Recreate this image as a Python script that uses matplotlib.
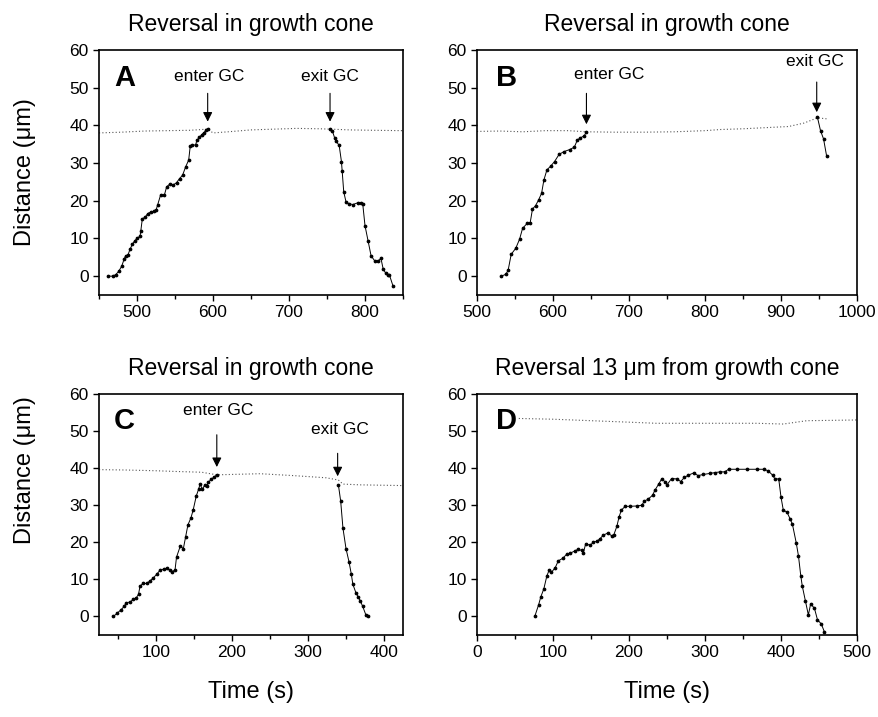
import numpy as np
import matplotlib
matplotlib.use("Agg")
import matplotlib.pyplot as plt
from matplotlib.ticker import MultipleLocator

plt.rcParams['font.family'] = ['Liberation Sans', 'DejaVu Sans']

# ---- panel A ----
a_in_t = [462, 468, 472, 476, 480, 483, 485, 488, 491, 494, 497, 500, 504, 505, 507, 511, 514, 518,
          522, 525, 527, 531, 536, 539, 543, 547, 552, 556, 560, 564, 568, 570, 573, 577, 579, 582,
          585, 588, 591, 593]
a_in_d = [0, 0, 0.4, 1.3, 2.7, 4.5, 5.4, 5.6, 7.2, 8.5, 9.4, 10, 10.6, 12, 15.2, 15.7, 16.6, 17,
          17.2, 17.5, 18.8, 21.5, 21.5, 23.7, 24.4, 24.1, 24.8, 25.9, 26.8, 29, 30.8, 34.4, 34.8, 34.8,
          36.1, 36.8, 37.5, 38.1, 38.7, 39]
a_out_t = [754, 757, 760, 762, 766, 769, 770, 772, 775, 779, 784, 791, 795, 797, 800, 804, 808, 813,
           817, 821, 824, 827, 830, 832, 837]
a_out_d = [39, 38.6, 36.7, 35.8, 34.7, 30.4, 27.8, 22.4, 19.7, 19.2, 19, 19.5, 19.5, 19.2, 13.4, 9.4,
           5.4, 4, 4, 4.7, 1.8, 0.9, 0.2, 0.4, -2.7]
a_gc_t = [450, 480, 510, 540, 570, 593, 600, 620, 650, 680, 710, 740, 755, 780, 810, 850]
a_gc_d = [38.0, 38.2, 38.5, 38.6, 38.7, 39.0, 38.0, 38.3, 38.8, 39.0, 39.2, 39.1, 39.0, 38.8, 38.7, 38.6]

# ---- panel B ----
b_in_t = [532, 538, 541, 545, 551, 556, 560, 566, 570, 573, 577, 581, 585, 588, 592, 597, 602, 608,
          614, 622, 628, 632, 636, 641, 644]
b_in_d = [0, 0.5, 1.6, 5.8, 7.4, 9.8, 12.7, 14, 14.2, 17.8, 18.7, 20.2, 22, 25.5, 28.2, 29.2, 30.4,
          32.3, 33, 33.6, 34.2, 36.1, 36.7, 37.2, 38.3]
b_out_t = [948, 952, 956, 960]
b_out_d = [42.1, 38.6, 36.4, 31.9]
b_gc_t = [500, 530, 560, 590, 620, 644, 680, 720, 760, 800, 820, 850, 880, 910, 930, 948, 962]
b_gc_d = [38.4, 38.5, 38.3, 38.6, 38.6, 38.3, 38.2, 38.2, 38.3, 38.6, 38.9, 39.1, 39.4, 39.7, 40.6,
          42.0, 41.7]

# ---- panel C ----
c_in_t = [44, 49, 54, 58, 61, 66, 70, 74, 77, 79, 83, 88, 92, 96, 101, 105, 110, 114, 118, 121, 125,
          127, 132, 136, 139, 142, 146, 149, 153, 156, 158, 161, 164, 167, 169, 173, 176, 180]
c_in_d = [0, 0.9, 1.8, 2.7, 3.7, 3.9, 4.6, 5, 6, 8.2, 8.9, 8.9, 9.6, 10.3, 11.4, 12.4, 12.8, 13, 12.5,
          12.1, 12.5, 16, 19, 18.3, 21.5, 24.7, 26.6, 28.8, 32.5, 34.3, 35.7, 34.3, 35.4, 35.2, 36.2,
          37.1, 37.5, 38.2]
c_out_t = [340, 343, 346, 350, 354, 357, 359, 363, 366, 369, 372, 376, 379]
c_out_d = [35.5, 31.1, 23.8, 18.3, 14.7, 11.4, 8.7, 6.4, 5.3, 4.1, 2.7, 0.5, 0]
c_gc_t = [25, 60, 100, 127, 160, 180, 237, 280, 324, 340, 346, 368, 425]
c_gc_d = [39.6, 39.5, 39.3, 39.1, 38.9, 38.2, 38.5, 38.0, 37.4, 36.8, 35.7, 35.5, 35.3]

# ---- panel D ----
d_t = [76, 81, 84, 88, 92, 95, 98, 103, 107, 113, 118, 122, 129, 133, 138, 140, 143, 149, 153, 158,
       162, 166, 172, 177, 180, 184, 187, 190, 195, 201, 210, 217, 220, 225, 231, 234, 239, 243, 247,
       250, 256, 263, 268, 273, 278, 285, 291, 298, 307, 313, 320, 326, 331, 342, 355, 368, 377, 383,
       389, 392, 397, 400, 403, 408, 412, 415, 420, 423, 426, 428, 432, 436, 439, 444, 448, 453, 457]
d_d = [0, 3.1, 5.3, 7.5, 11, 12.5, 11.9, 13.2, 15, 15.7, 16.8, 17, 17.7, 18.1, 17.8, 17.2, 19.6,
       19.2, 20, 20.3, 21, 21.9, 22.5, 21.8, 22, 24.3, 26.9, 28.7, 29.7, 29.7, 29.8, 30, 31.1, 31.6,
       32.7, 34, 35.7, 37.1, 36.4, 35.5, 37.2, 37.1, 36.4, 37.5, 38.1, 38.7, 38, 38.3, 38.6, 38.8, 39,
       39, 39.7, 39.7, 39.7, 39.7, 39.7, 39.3, 38.1, 37.1, 37.1, 32.2, 28.7, 28.1, 26.3, 24.9, 19.9,
       16.3, 11, 8.2, 4.3, 0.4, 3.4, 2.2, -0.9, -2, -4.1]
d_gc_t = [55, 100, 150, 200, 236, 300, 368, 403, 434, 470, 500]
d_gc_d = [53.4, 53.2, 52.8, 52.4, 52.1, 52.1, 52.1, 51.9, 52.8, 52.9, 53.0]

titles = ["Reversal in growth cone", "Reversal in growth cone",
          "Reversal in growth cone", "Reversal 13 \u03bcm from growth cone"]
letters = ["A", "B", "C", "D"]
xlims = [(450, 850), (500, 1000), (25, 425), (0, 500)]
# (label, arrow x, arrow tip y, arrow tail y, text x, text y)
arrows = [
    [("enter GC", 593, 41.0, 48.5, 595, 51), ("exit GC", 754, 41.0, 48.5, 754, 51)],
    [("enter GC", 644, 40.3, 48.5, 674, 51.5), ("exit GC", 947, 43.5, 51.5, 945, 55)],
    [("enter GC", 180, 40.3, 49.0, 182, 53.5), ("exit GC", 339, 37.8, 44.0, 342, 48.5)],
    [],
]

traces = [
    [(a_in_t, a_in_d), (a_out_t, a_out_d)],
    [(b_in_t, b_in_d), (b_out_t, b_out_d)],
    [(c_in_t, c_in_d), (c_out_t, c_out_d)],
    [(d_t, d_d)],
]
gc_lines = [(a_gc_t, a_gc_d), (b_gc_t, b_gc_d), (c_gc_t, c_gc_d), (d_gc_t, d_gc_d)]

W, H = 879, 717
fig = plt.figure(figsize=(W / 100, H / 100), dpi=100)

# axes boxes in pixels: left, top, right, bottom
boxes = [(99, 50, 403, 295), (477, 50, 857, 295), (99, 394, 403, 635), (477, 394, 857, 635)]

for i in range(4):
    l, t, r, b = boxes[i]
    ax = fig.add_axes([l / W, 1 - b / H, (r - l) / W, (b - t) / H])
    gt, gd = gc_lines[i]
    ax.plot(gt, gd, linestyle=(0, (1, 2)), color='#555555', lw=0.8)
    for tt, dd in traces[i]:
        ax.plot(tt, dd, color='black', lw=0.7, marker='o', markersize=1.7)
    for lab, ax_x, tip, tail, tx, ty in arrows[i]:
        ax.annotate('', xy=(ax_x, tip), xytext=(ax_x, tail),
                    arrowprops=dict(arrowstyle='-|>', color='black', lw=0.8,
                                    mutation_scale=14, shrinkA=0, shrinkB=0))
        ax.text(tx, ty, lab, ha='center', va='bottom', fontsize=12.5)
    ax.text(0.05, 0.855, letters[i], transform=ax.transAxes, fontsize=21,
            fontweight='bold', ha='left', va='baseline')
    ax.set_xlim(*xlims[i])
    ax.set_ylim(-5, 60)
    ax.set_yticks(np.arange(0, 61, 10))
    ax.xaxis.set_major_locator(MultipleLocator(100))
    ax.xaxis.set_minor_locator(MultipleLocator(50))
    ax.tick_params(which='both', direction='out', labelsize=12.5, width=1.0)
    ax.tick_params(which='major', length=4)
    ax.tick_params(which='minor', length=3)
    for s in ax.spines.values():
        s.set_linewidth(1.2)
    ax.set_title(titles[i], fontsize=16.5, pad=14)
    if i >= 2:
        ax.set_xlabel("Time (s)", fontsize=17, labelpad=15)

fig.text(25 / W, 1 - 172 / H, "Distance (\u03bcm)", rotation=90, ha='center', va='center', fontsize=17)
fig.text(25 / W, 1 - 470 / H, "Distance (\u03bcm)", rotation=90, ha='center', va='center', fontsize=17)

fig.savefig("out.png", dpi=100)
